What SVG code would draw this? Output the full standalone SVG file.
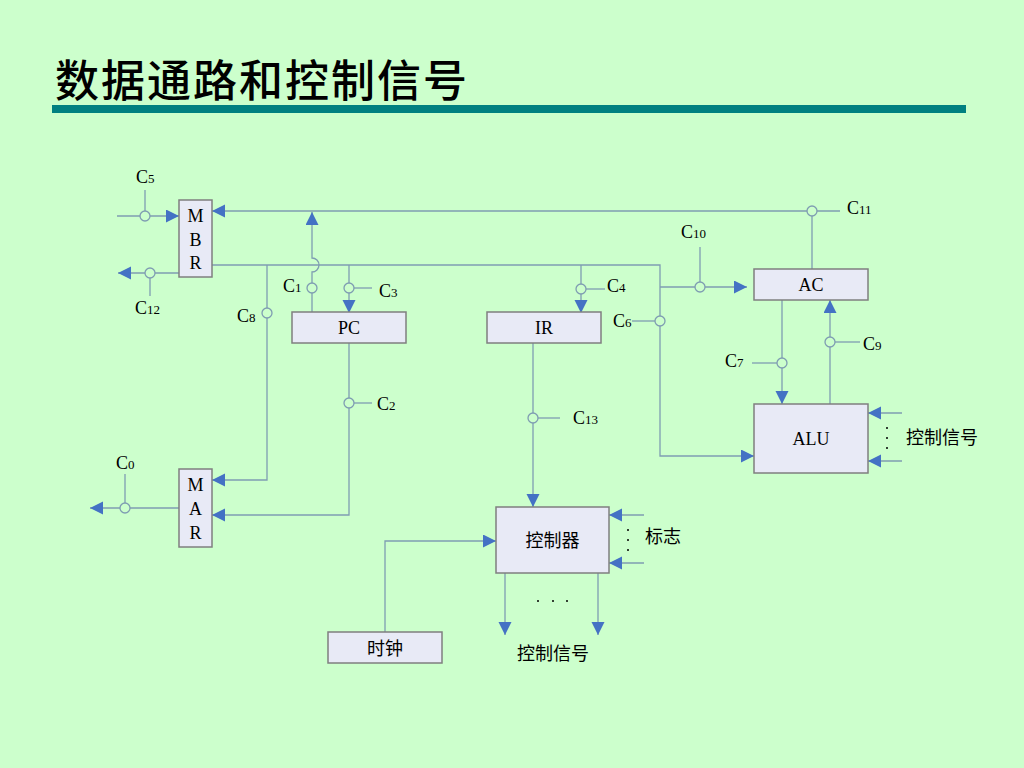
<svg xmlns="http://www.w3.org/2000/svg" width="1024" height="768" viewBox="0 0 1024 768">
<defs>
<marker id="arr" markerUnits="userSpaceOnUse" markerWidth="14" markerHeight="14" refX="13" refY="6.5" orient="auto">
<path d="M0,0 L13,6.5 L0,13 z" fill="#4472C4"/>
</marker>
<style>
.ln{fill:none;stroke:#7f9db2;stroke-width:1.3}
.ar{marker-end:url(#arr)}
.ci{fill:#CCFFCC;stroke:#7f9db2;stroke-width:1.3}
.box{fill:#E8EAF6;stroke:#7f7f7f;stroke-width:1.5}
.t{font-family:"Liberation Serif","Times New Roman",serif;font-size:18px;fill:#000}
.s{font-size:13px}
.bt{font-family:"Liberation Serif","Times New Roman",serif;font-size:18px;fill:#000;text-anchor:middle}
.cn{font-family:"Noto Sans CJK SC","Noto Sans",sans-serif;font-size:18px;fill:#000}
.dot{fill:#000}
</style>
</defs>
<rect width="1024" height="768" fill="#CCFFCC"/>
<text x="55" y="97" font-family="Noto Sans CJK SC,sans-serif" font-size="44" font-weight="500" letter-spacing="2" fill="#000">数据通路和控制信号</text>
<rect x="52" y="105" width="914" height="8" fill="#008080"/>

<g id="connectors">
<path class="ln ar" d="M117,216 H179"/>
<path class="ln" d="M145,190 V211"/>
<path class="ln ar" d="M840,211 H212"/>
<path class="ln" d="M812,216 V269"/>
<path class="ln ar" d="M312,313 V272 A7,7 0 0 0 312,258 V212"/>
<path class="ln ar" d="M212,265 H660 V456 H754"/>
<path class="ln ar" d="M267,265 V480 H212"/>
<path class="ln ar" d="M349,265 V313"/>
<path class="ln" d="M354,288 H372"/>
<path class="ln ar" d="M581,265 V313"/>
<path class="ln" d="M586,289 H605"/>
<path class="ln" d="M632,321 H655"/>
<path class="ln ar" d="M660,287 H747"/>
<path class="ln" d="M700,247 V282"/>
<path class="ln ar" d="M782,300 V404"/>
<path class="ln" d="M752,363 H777"/>
<path class="ln ar" d="M830,404 V300"/>
<path class="ln" d="M835,342 H860"/>
<path class="ln ar" d="M902,413 H868"/>
<path class="ln ar" d="M902,461 H868"/>
<path class="ln ar" d="M349,343 V515 H212"/>
<path class="ln" d="M354,403 H372"/>
<path class="ln ar" d="M179,508 H90"/>
<path class="ln" d="M125,474 V503"/>
<path class="ln ar" d="M179,273 H118"/>
<path class="ln" d="M150,278 V296"/>
<path class="ln ar" d="M533,343 V507"/>
<path class="ln" d="M538,418 H560"/>
<path class="ln ar" d="M644,515 H609"/>
<path class="ln ar" d="M644,563 H609"/>
<path class="ln ar" d="M385,632 V541 H496"/>
<path class="ln ar" d="M505,573 V635"/>
<path class="ln ar" d="M598,573 V635"/>
<circle class="ci" cx="145" cy="216" r="5"/>
<circle class="ci" cx="812" cy="211" r="5"/>
<circle class="ci" cx="312" cy="288" r="5"/>
<circle class="ci" cx="267" cy="313" r="5"/>
<circle class="ci" cx="349" cy="288" r="5"/>
<circle class="ci" cx="581" cy="289" r="5"/>
<circle class="ci" cx="660" cy="321" r="5"/>
<circle class="ci" cx="700" cy="287" r="5"/>
<circle class="ci" cx="782" cy="363" r="5"/>
<circle class="ci" cx="830" cy="342" r="5"/>
<circle class="ci" cx="349" cy="403" r="5"/>
<circle class="ci" cx="125" cy="508" r="5"/>
<circle class="ci" cx="150" cy="273" r="5"/>
<circle class="ci" cx="533" cy="418" r="5"/>
</g>

<g id="labels">
<text class="t" x="136" y="183">C<tspan class="s">5</tspan></text>
<text class="t" x="135" y="314">C<tspan class="s">12</tspan></text>
<text class="t" x="283" y="292">C<tspan class="s">1</tspan></text>
<text class="t" x="237" y="322">C<tspan class="s">8</tspan></text>
<text class="t" x="379" y="297">C<tspan class="s">3</tspan></text>
<text class="t" x="607" y="292">C<tspan class="s">4</tspan></text>
<text class="t" x="613" y="327">C<tspan class="s">6</tspan></text>
<text class="t" x="847" y="214">C<tspan class="s">11</tspan></text>
<text class="t" x="681" y="238">C<tspan class="s">10</tspan></text>
<text class="t" x="725" y="367">C<tspan class="s">7</tspan></text>
<text class="t" x="863" y="350">C<tspan class="s">9</tspan></text>
<text class="t" x="116" y="469">C<tspan class="s">0</tspan></text>
<text class="t" x="377" y="410">C<tspan class="s">2</tspan></text>
<text class="t" x="573" y="424">C<tspan class="s">13</tspan></text>
<text class="cn" x="906" y="444">控制信号</text>
<circle class="dot" cx="887" cy="428" r="1"/>
<circle class="dot" cx="887" cy="438" r="1"/>
<circle class="dot" cx="887" cy="448" r="1"/>
<text class="cn" x="645" y="543">标志</text>
<circle class="dot" cx="628" cy="530" r="1"/>
<circle class="dot" cx="628" cy="540" r="1"/>
<circle class="dot" cx="628" cy="550" r="1"/>
<circle class="dot" cx="538" cy="601" r="1"/>
<circle class="dot" cx="553" cy="601" r="1"/>
<circle class="dot" cx="567" cy="601" r="1"/>
<text class="cn" x="553" y="660" text-anchor="middle">控制信号</text>
</g>

<g id="MBR">
<rect class="box" x="179" y="200" width="33" height="77"/>
<text class="bt" x="195.5" y="222">M</text>
<text class="bt" x="195.5" y="246">B</text>
<text class="bt" x="195.5" y="269">R</text>
</g>
<g id="MAR">
<rect class="box" x="179" y="469" width="33" height="78"/>
<text class="bt" x="195.5" y="491">M</text>
<text class="bt" x="195.5" y="515">A</text>
<text class="bt" x="195.5" y="539">R</text>
</g>
<g id="PC">
<rect class="box" x="292" y="312" width="114" height="31"/>
<text class="bt" x="349" y="334">PC</text>
</g>
<g id="IR">
<rect class="box" x="487" y="312" width="114" height="31"/>
<text class="bt" x="544" y="334">IR</text>
</g>
<g id="AC">
<rect class="box" x="754" y="269" width="114" height="31"/>
<text class="bt" x="811" y="291">AC</text>
</g>
<g id="ALU">
<rect class="box" x="754" y="404" width="114" height="69"/>
<text class="bt" x="811" y="445">ALU</text>
</g>
<g id="controller">
<rect class="box" x="496" y="507" width="113" height="66"/>
<text class="cn" x="552.5" y="547" text-anchor="middle">控制器</text>
</g>
<g id="clock">
<rect class="box" x="328" y="632" width="114" height="31"/>
<text class="cn" x="385" y="655" text-anchor="middle">时钟</text>
</g>
</svg>
